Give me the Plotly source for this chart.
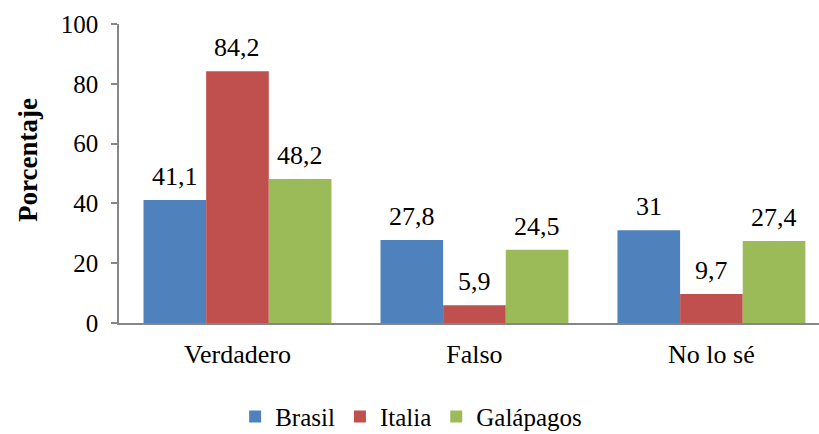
import plotly.graph_objects as go

categories = ["Verdadero", "Falso", "No lo sé"]
brasil = [41.1, 27.8, 31]
italia = [84.2, 5.9, 9.7]
galapagos = [48.2, 24.5, 27.4]

series_names = ["Brasil", "Italia", "Galápagos"]
series_values = [brasil, italia, galapagos]
series_colors = ["#4F81BD", "#C0504D", "#9BBB59"]

FONT = "Liberation Serif"
BARGAP = 0.207

fig = go.Figure()
for name, vals, color in zip(series_names, series_values, series_colors):
    fig.add_trace(go.Bar(
        name=name, x=categories, y=vals,
        marker=dict(color=color, line=dict(width=0)),
    ))

# value labels above each bar, placed at the centre of its slot in the group
bar_w = (1 - BARGAP) / len(series_values)
annotations = []
for j, vals in enumerate(series_values):
    offset = (j - (len(series_values) - 1) / 2) * bar_w
    for i, v in enumerate(vals):
        txt = f"{v:g}".replace(".", ",")
        annotations.append(dict(
            x=i + offset, y=v, xref="x", yref="y",
            text=txt, showarrow=False, yanchor="bottom",
            yshift=7, font=dict(family=FONT, size=26, color="#000000"),
        ))

annotations.append(dict(
    x=-0.13, y=0.545, xref="paper", yref="paper",
    xanchor="center", yanchor="middle",
    text="<b>Porcentaje</b>", textangle=-90, showarrow=False,
    font=dict(family=FONT, size=27, color="#000000"),
))

fig.update_layout(
    width=819, height=434,
    margin=dict(l=119, r=0, t=24, b=111),
    paper_bgcolor="white", plot_bgcolor="white",
    barmode="group", bargap=BARGAP, bargroupgap=0,
    font=dict(family=FONT, size=26, color="#000000"),
    showlegend=True,
    legend=dict(
        orientation="h", xref="container", yref="container",
        x=0.502, xanchor="center", y=0.04, yanchor="middle",
        font=dict(family=FONT, size=25), itemwidth=30,
        tracegroupgap=0,
    ),
    annotations=annotations,
)
fig.update_xaxes(
    type="category", range=[-0.5, 2.454],
    showline=True, linecolor="#868686", linewidth=1.5,
    ticks="", showgrid=False, zeroline=False,
    tickfont=dict(family=FONT, size=26), ticklabelstandoff=7,
)
fig.update_yaxes(
    range=[0, 100], dtick=20,
    showline=True, linecolor="#868686", linewidth=1.5,
    ticks="outside", ticklen=6, tickcolor="#868686", tickwidth=1.5,
    showgrid=False, zeroline=False,
    tickfont=dict(family=FONT, size=25), ticklabelstandoff=8,
)

fig.write_html("out.html")
